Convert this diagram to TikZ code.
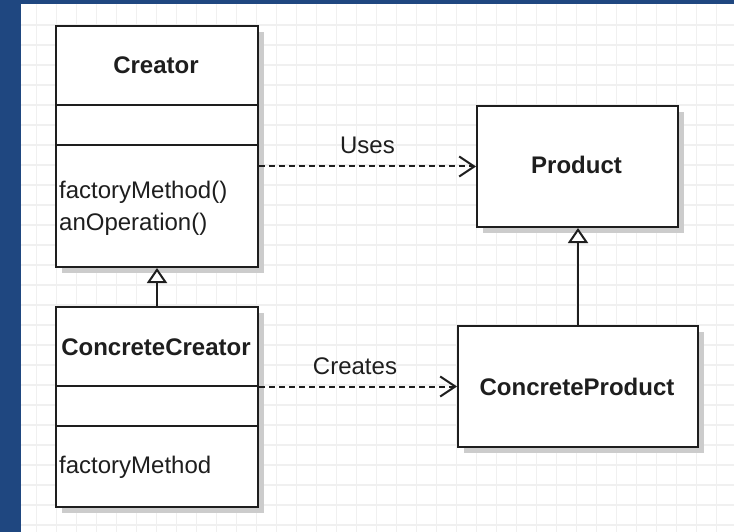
\documentclass[tikz,border=0pt]{standalone}
\usepackage{fontspec}
\setmainfont{Liberation Sans}
\usetikzlibrary{arrows.meta,shadows}
\definecolor{frameblue}{HTML}{1F4780}
\definecolor{gridgray}{HTML}{F0F0F0}
\definecolor{ink}{HTML}{1E1E1E}
\definecolor{shade}{HTML}{CCCCCC}

\begin{document}
\begin{tikzpicture}[x=1pt,y=-1pt,
  every node/.style={font=\fontsize{24}{28}\selectfont, text=ink},
  classbox/.style={draw=ink, line width=2pt, fill=white, anchor=north west,
    inner sep=0pt, general shadow={fill=shade, shadow xshift=6pt, shadow yshift=-6pt}},
  classname/.style={anchor=base, font=\fontsize{24}{28}\selectfont\bfseries, inner sep=0pt},
  member/.style={anchor=base west, inner sep=0pt},
  separator/.style={draw=ink, line width=2pt},
  gridline/.style={draw=gridgray, line width=1.5pt},
  depends/.style={draw=ink, line width=2pt, dash pattern=on 6pt off 4pt,
    -{Straight Barb[length=15pt, width=20pt]}},
  inherits/.style={draw=ink, line width=2pt,
    -{Triangle[length=15pt, width=20pt, fill=white]}},
  edgelabel/.style={anchor=base, inner sep=0pt, yshift=12.5pt}
]
  % frame and canvas
  \fill[frameblue] (0,0) rectangle (734,532);
  \fill[white] (21,4) rectangle (734,532);
  \useasboundingbox (0,0) rectangle (734,532);
  \foreach \i in {1,...,35} \draw[gridline] ({16.7+20*\i},4) -- ({16.7+20*\i},532);
  \foreach \j in {1,...,26} \draw[gridline] (21,{5+20*\j}) -- (734,{5+20*\j});

  % classes
  \node[classbox, minimum width=202pt, minimum height=241pt] (creator) at (55,25) {};
  \node[classbox, minimum width=202pt, minimum height=200pt] (ccreator) at (55,306) {};
  \node[classbox, minimum width=201pt, minimum height=121pt] (product) at (476,105) {};
  \node[classbox, minimum width=240pt, minimum height=121pt] (cproduct) at (457,325) {};

  % compartments
  \draw[separator] (creator.west |- 0,105) -- (creator.east |- 0,105);
  \draw[separator] (creator.west |- 0,145) -- (creator.east |- 0,145);
  \draw[separator] (ccreator.west |- 0,386) -- (ccreator.east |- 0,386);
  \draw[separator] (ccreator.west |- 0,426) -- (ccreator.east |- 0,426);

  % texts
  \node[classname] (creatorname) at (156,74) {Creator};
  \node[member] (fm1) at (59,199) {factoryMethod()};
  \node[member] (op1) at (59,230) {anOperation()};
  \node[classname] (ccreatorname) at (156,355) {ConcreteCreator};
  \node[member] (fm2) at (59,473) {factoryMethod};
  \node[classname] (productname) at (576.5,174) {Product};
  \node[classname] (cproductname) at (577,395) {ConcreteProduct};

  % relations
  \draw[depends] (creator.east |- product.west) -- node[edgelabel] (uses) {Uses} (product.west);
  \draw[depends] (ccreator.east |- cproduct.west) -- node[edgelabel, xshift=-3pt] (creates) {Creates} (cproduct.west);
  \draw[inherits] (ccreator.north) -- (creator.south);
  \draw[inherits] (cproduct.north) -- (cproduct.north |- product.south);
\end{tikzpicture}
\end{document}
